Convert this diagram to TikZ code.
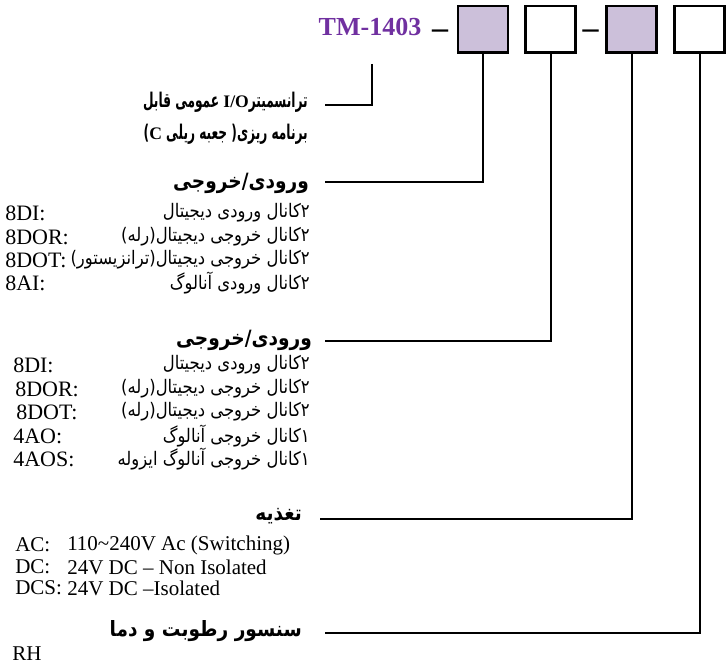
\documentclass[tikz,border=0pt]{standalone}
\usepackage{fontspec}
\setmainfont{Liberation Serif}
\newfontfamily\fa[Script=Arabic,FakeStretch=0.88]{DejaVu Sans}
\newfontfamily\fanarrow[Script=Arabic,FakeStretch=0.6]{DejaVu Sans}
\TeXXeTstate=1
\definecolor{tmpurple}{RGB}{112,48,160}
\definecolor{boxfill}{RGB}{204,192,218}
\newcommand{\latsmall}[1]{{\rmfamily\bfseries\fontsize{13.2}{13.2}\selectfont #1}}
\begin{document}
\begin{tikzpicture}[x=0.75pt,y=-0.75pt,
  codebox/.style={draw, line width=2pt, minimum width=37.5pt, minimum height=35pt, inner sep=0pt},
  conn/.style={line width=1.5pt},
  tmtitle/.style={font=\bfseries\fontsize{19.5}{19.5}\selectfont, text=tmpurple, inner sep=0pt},
  dashtxt/.style={font=\bfseries\fontsize{24}{24}\selectfont, inner sep=0pt},
  fatop/.style={anchor=east, font=\fanarrow\bfseries\fontsize{15.2}{15.2}\selectfont, inner sep=0pt},
  fahead/.style={anchor=east, font=\fa\bfseries\fontsize{15.8}{15.8}\selectfont, inner sep=0pt},
  faitem/.style={anchor=east, font=\fa\fontsize{14}{14}\selectfont, inner sep=0pt},
  latitem/.style={anchor=west, font=\fontsize{16.5}{16.5}\selectfont, inner sep=0pt},
  latpow/.style={anchor=west, font=\fontsize{15.75}{15.75}\selectfont, inner sep=0pt}]
\useasboundingbox (0,0) rectangle (727,667);
% header code
\node[tmtitle] (tm) at (370,27) {TM-1403};
\node[dashtxt] (d1) at (440,34) {–};
\node[codebox, fill=boxfill] (b1) at (483,29.5) {};
\node[codebox] (b2) at (550.5,29.5) {};
\node[dashtxt] (d2) at (590.5,34) {–};
\node[codebox, fill=boxfill] (b3) at (631.5,29.5) {};
\node[codebox] (b4) at (699.5,29.5) {};
% connector end points
\coordinate (t0) at (372,64);
\coordinate (e0) at (325,105);
\coordinate (e1) at (325,182);
\coordinate (e2) at (325,341);
\coordinate (e3) at (320,519);
\coordinate (e4) at (325,633);
\draw[conn] (t0) |- (e0);
\draw[conn] (b1.south) |- (e1);
\draw[conn] (b2.south) |- (e2);
\draw[conn] (b3.south) |- (e3);
\draw[conn] (b4.south) |- (e4);
% group 0
\node[fatop] (h0a) at (308,102) {\beginR ترانسمیتر\beginL\latsmall{I/O}\endL{} عمومی قابل\endR};
\node[fatop] (h0b) at (308,134) {\beginR برنامه ریزی( جعبه ریلی \latsmall{C})\endR};
% group 1
\node[fahead] (h1) at (309,183) {\beginR ورودی/خروجی\endR};
\node[faitem] (p11) at (310,213) {\beginR ۲کانال ورودی دیجیتال\endR};
\node[faitem] (p12) at (310,237) {\beginR ۲کانال خروجی دیجیتال(رله)\endR};
\node[faitem] (p13) at (310,260) {\beginR ۲کانال خروجی دیجیتال(ترانزیستور)\endR};
\node[faitem] (p14) at (310,283) {\beginR ۲کانال ورودی آنالوگ\endR};
\node[latitem] (l11) at (5,213) {8DI:};
\node[latitem] (l12) at (5,237) {8DOR:};
\node[latitem] (l13) at (5,260) {8DOT:};
\node[latitem] (l14) at (5,283) {8AI:};
% group 2
\node[fahead] (h2) at (312,340) {\beginR ورودی/خروجی\endR};
\node[faitem] (p21) at (310,365) {\beginR ۲کانال ورودی دیجیتال\endR};
\node[faitem] (p22) at (310,389) {\beginR ۲کانال خروجی دیجیتال(رله)\endR};
\node[faitem] (p23) at (310,412) {\beginR ۲کانال خروجی دیجیتال(رله)\endR};
\node[faitem] (p24) at (310,436) {\beginR ۱کانال خروجی آنالوگ\endR};
\node[faitem] (p25) at (310,459) {\beginR ۱کانال خروجی آنالوگ ایزوله\endR};
\node[latitem] (l21) at (13,365) {8DI:};
\node[latitem] (l22) at (15,389) {8DOR:};
\node[latitem] (l23) at (16,412) {8DOT:};
\node[latitem] (l24) at (13,436) {4AO:};
\node[latitem] (l25) at (13,459) {4AOS:};
% group 3
\node[fahead] (h3) at (302,516) {\beginR تغذیه\endR};
\node[latpow] (a1) at (15,545) {AC:};
\node[latpow] (a2) at (15,567) {DC:};
\node[latpow] (a3) at (15,588) {DCS:};
\node[latpow] (v1) at (67,545) {110\char"7E 240V Ac (Switching)};
\node[latpow] (v2) at (67,567) {24V DC – Non Isolated};
\node[latpow] (v3) at (67,588) {24V DC –Isolated};
% group 4
\node[fahead] (h4) at (302,631) {\beginR سنسور رطوبت و دما\endR};
\node[latpow] (rh) at (12,654) {RH};
\end{tikzpicture}
\end{document}
